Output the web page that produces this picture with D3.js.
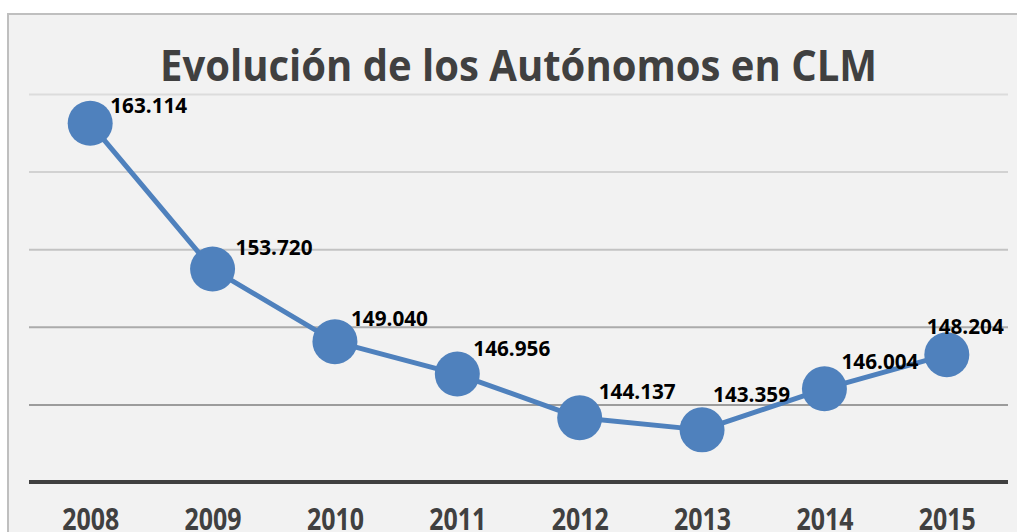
<!DOCTYPE html>
<html>
<head>
<meta charset="utf-8">
<script src="https://cdn.jsdelivr.net/npm/d3@7"></script>
<style>
  html, body { margin: 0; padding: 0; background: #ffffff; }
  svg { display: block; }
</style>
</head>
<body>
<script>
const title = "Evolución de los Autónomos en CLM";
const years = ["2008", "2009", "2010", "2011", "2012", "2013", "2014", "2015"];
const values = [163.114, 153.720, 149.040, 146.956, 144.137, 143.359, 146.004, 148.204];
const valueLabels = ["163.114", "153.720", "149.040", "146.956", "144.137", "143.359", "146.004", "148.204"];
const yTicks = [140, 145, 150, 155, 160, 165];

// layout: per-label offsets (px) from each marker centre
const labelDx = [20, 23, 16, 16, 19, 11, 17, -20];
const labelDy = [-10, -14, -16, -18, -19, -28, -20, -21];

const W = 1017, H = 532;
const svg = d3.select("body").append("svg").attr("width", W).attr("height", H);

// chart area background + border
svg.append("rect").attr("x", 8).attr("y", 14).attr("width", W + 10).attr("height", H)
  .attr("fill", "#f2f2f2").attr("stroke", "#bfbfbf").attr("stroke-width", 2);

const x = d3.scalePoint().domain(years).range([29, 1008]).padding(0.5);
const y = d3.scaleLinear().domain([140, 165]).range([482, 94]);

// gridlines (colour darkens toward the bottom as in the reference)
const gridColors = {145: "#9c9c9c", 150: "#ababab", 155: "#c3c3c3", 160: "#d2d2d2", 165: "#dcdcdc"};
const yAxis = d3.axisLeft(y).tickValues(yTicks.slice(1)).tickSize(-(1008 - 29)).tickFormat("");
const gy = svg.append("g").attr("transform", "translate(29,0)").call(yAxis);
gy.select(".domain").remove();
gy.selectAll(".tick line").attr("stroke", d => gridColors[d]).attr("stroke-width", 2);

// x axis (thick dark baseline)
const xAxis = d3.axisBottom(x).tickSize(0).tickPadding(0);
const gx = svg.append("g").attr("transform", `translate(0,${y(140)})`).call(xAxis);
gx.select(".domain").attr("stroke", "#404040").attr("stroke-width", 4)
  .attr("d", `M29,0H1008`);
gx.selectAll(".tick text")
  .attr("y", 0).attr("dy", 0)
  .attr("transform", `translate(0,${530 - y(140)})`)
  .attr("fill", "#404040")
  .attr("font-family", "'Open Sans', sans-serif")
  .attr("font-weight", "bold")
  .attr("font-size", 31)
  .attr("textLength", 57)
  .attr("lengthAdjust", "spacingAndGlyphs");

// title
svg.append("text")
  .attr("x", 518.5).attr("y", 81)
  .attr("text-anchor", "middle")
  .attr("fill", "#404040")
  .attr("font-family", "'Open Sans', sans-serif")
  .attr("font-weight", "bold")
  .attr("font-size", 43)
  .attr("textLength", 717)
  .attr("lengthAdjust", "spacingAndGlyphs")
  .text(title);

const data = years.map((yr, i) => ({yr, v: values[i], label: valueLabels[i], dx: labelDx[i], dy: labelDy[i]}));

// line
svg.append("path").datum(data)
  .attr("fill", "none").attr("stroke", "#4f81bd").attr("stroke-width", 5)
  .attr("stroke-linejoin", "round")
  .attr("d", d3.line().x(d => x(d.yr)).y(d => y(d.v)));

// markers
svg.selectAll("circle.pt").data(data).join("circle").attr("class", "pt")
  .attr("cx", d => x(d.yr)).attr("cy", d => y(d.v)).attr("r", 22.5)
  .attr("fill", "#4f81bd");

// data labels
svg.selectAll("text.lbl").data(data).join("text").attr("class", "lbl")
  .attr("x", d => x(d.yr) + d.dx).attr("y", d => y(d.v) + d.dy)
  .attr("fill", "#000000")
  .attr("font-family", "'Open Sans', sans-serif")
  .attr("font-weight", "bold")
  .attr("font-size", 21)
  .attr("textLength", 77)
  .attr("lengthAdjust", "spacingAndGlyphs")
  .text(d => d.label);
</script>
</body>
</html>
